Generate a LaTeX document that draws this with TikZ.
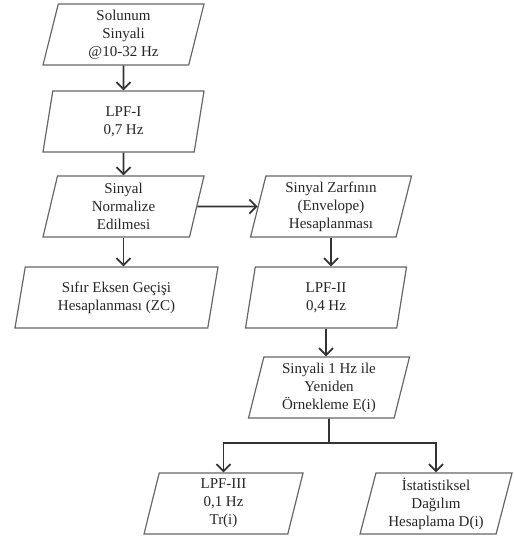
\documentclass[tikz,border=0pt]{standalone}
\usepackage{fontspec}
\setmainfont{Liberation Serif}
\usetikzlibrary{shapes.geometric,arrows.meta}
\newcommand{\fs}{\fontsize{7.5}{9}\selectfont}

\begin{document}
\begin{tikzpicture}[x=0.5pt,y=-0.5pt,
   kutu/.style={trapezium,trapezium left angle=74,trapezium right angle=106,
     trapezium stretches body,draw=black!60,line width=0.6pt,align=center,
     text=black!85,font=\fs,minimum width=80.5pt,minimum height=30.5pt,
     inner sep=1pt},
   ok/.style={draw=black!80,line width=0.9pt,
     -{Straight Barb[length=3.5pt,width=7pt]}}]
   \useasboundingbox (0,0) rectangle (513,539);
   % sol sutun
   \node[kutu] (sol)   at (123.5, 34.5) {Solunum\\Sinyali\\@10-32 Hz};
   \node[kutu] (lpf1)  at (123.5,121.5) {LPF-I\\0,7 Hz};
   \node[kutu] (norm)  at (123.5,206.5) {Sinyal\\Normalize\\Edilmesi};
   \node[kutu,minimum width=101.5pt]
               (zc)    at (116.5,297.5) {Sıfır Eksen Geçişi\\Hesaplanması (ZC)};
   % sag sutun
   \node[kutu] (zarf)  at (331.0,206.5) {Sinyal Zarfının\\(Envelope)\\Hesaplanması};
   \node[kutu] (lpf2)  at (326.0,297.5) {LPF-II\\0,4 Hz};
   \node[kutu] (ornek) at (329.0,387.5) {Sinyali 1 Hz ile\\Yeniden\\Örnekleme E(i)};
   % alt
   \node[kutu,minimum width=79.5pt]
               (lpf3)  at (223.5,503.5) {LPF-III\\0,1 Hz\\Tr(i)};
   \node[kutu,minimum width=76pt]
               (ist)   at (436.0,503.5) {İstatistiksel\\Dağılım\\Hesaplama D(i)};
   \coordinate (ayir) at (329.0,443.0);
   % oklar
   \draw[ok] (sol)  -- (lpf1);
   \draw[ok] (lpf1) -- (norm);
   \draw[ok] (norm.south) -- (norm.south |- zc.north);
   \draw[ok] (norm.east)  -- (zarf.west);
   \draw[ok] (zarf.south) -- (zarf.south |- lpf2.north);
   \draw[ok] (lpf2.south) -- (lpf2.south |- ornek.north);
   \draw[draw=black!80,line width=0.9pt] (ornek.south) -- (ayir);
   \draw[ok] (ayir) -| (lpf3.north);
   \draw[ok] (ayir) -| (ist.north);
\end{tikzpicture}
\end{document}
